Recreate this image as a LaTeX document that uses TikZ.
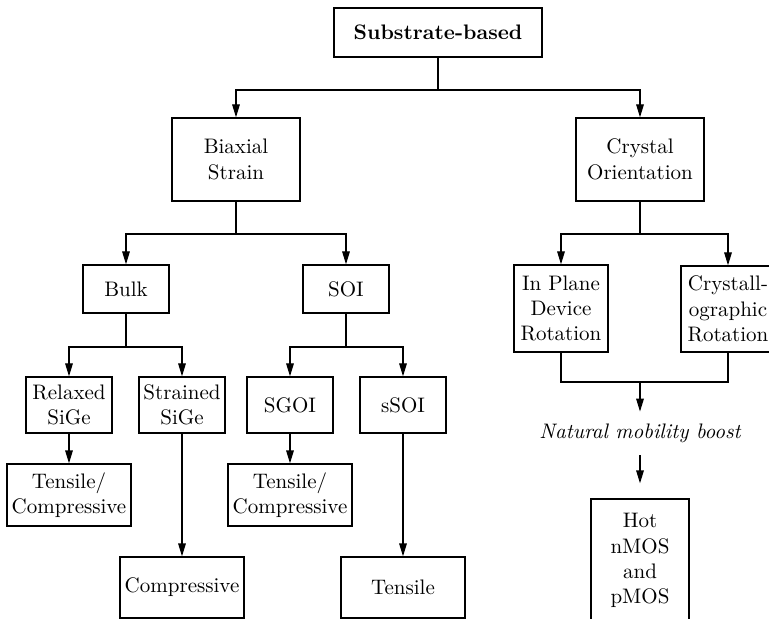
\documentclass[tikz,border=0pt]{standalone}
\usetikzlibrary{arrows.meta}

\begin{document}
\begin{tikzpicture}[x=0.5pt,y=-0.5pt,
  box/.style={draw,line width=0.65pt,align=center,inner sep=0pt,font=\fontsize{10.5}{12.7}\selectfont},
  arr/.style={-{Triangle[length=6.5pt,width=3.8pt]},line width=0.65pt},
  lin/.style={line width=0.65pt}]
\clip (0,0) rectangle (769,619);
% boxes
\node[box,minimum width=104pt,minimum height=24.5pt] (top) at (438,32.5) {\textbf{Substrate-based}};
\node[box,minimum width=64pt,minimum height=41.5pt] (bia) at (236,159.5) {Biaxial\\Strain};
\node[box,minimum width=64pt,minimum height=41.5pt] (cry) at (640,159.5) {Crystal\\Orientation};
\node[box,minimum width=43pt,minimum height=24pt] (bulk) at (126,289) {Bulk};
\node[box,minimum width=43pt,minimum height=24pt] (soi) at (346,289) {SOI};
\node[box,minimum width=47pt,minimum height=43.5pt] (inp) at (561,308.5) {In Plane\\Device\\Rotation};
\node[box,minimum width=47pt,minimum height=43pt] (cgr) at (728,309) {Crystall-\\ographic\\Rotation};
\node[box,minimum width=43pt,minimum height=28pt] (rel) at (69,405) {Relaxed\\SiGe};
\node[box,minimum width=43pt,minimum height=28pt] (str) at (182,405) {Strained\\SiGe};
\node[box,minimum width=43pt,minimum height=28pt] (sgo) at (290,405) {SGOI};
\node[box,minimum width=43pt,minimum height=28pt] (sso) at (403,405) {sSOI};
\node[box,minimum width=62pt,minimum height=31pt] (tc1) at (69,495) {Tensile/\\Compressive};
\node[box,minimum width=62pt,minimum height=31pt] (tc2) at (290,495) {Tensile/\\Compressive};
\node[box,minimum width=62pt,minimum height=30.5pt] (cmp) at (182,587.5) {Compressive};
\node[box,minimum width=62pt,minimum height=30.5pt] (ten) at (403,587.5) {Tensile};
\node[inner sep=0pt,minimum height=21.5pt,font=\fontsize{10.5}{12.7}\selectfont\itshape] (nat) at (640,433.5) {Natural mobility boost};
\node[box,minimum width=49pt,minimum height=65pt,text depth=5.4pt] (hot) at (640,564) {Hot\\nMOS\\and\\pMOS};
% junctions
\coordinate (j0) at (438,90);
\coordinate (j1) at (236,234);
\coordinate (j2) at (640,234);
\coordinate (j3) at (126,347);
\coordinate (j4) at (346,347);
\coordinate (j5) at (640,382);
% connectors
\draw[lin] (top) -- (j0);
\draw[arr] (j0) -| (bia);
\draw[arr] (j0) -| (cry);
\draw[lin] (bia) -- (j1);
\draw[arr] (j1) -| (bulk);
\draw[arr] (j1) -| (soi);
\draw[lin] (cry) -- (j2);
\draw[arr] (j2) -| (inp);
\draw[arr] (j2) -| (cgr);
\draw[lin] (bulk) -- (j3);
\draw[arr] (j3) -| (rel);
\draw[arr] (j3) -| (str);
\draw[lin] (soi) -- (j4);
\draw[arr] (j4) -| (sgo);
\draw[arr] (j4) -| (sso);
\draw[arr] (rel) -- (tc1);
\draw[arr] (sgo) -- (tc2);
\draw[arr] (str) -- (cmp);
\draw[arr] (sso) -- (ten);
\draw[lin] (inp) |- (j5) -| (cgr);
\draw[arr] (j5) -- (nat);
\draw[arr,shorten >=7.5pt] (nat) -- (hot);
\end{tikzpicture}
\end{document}
